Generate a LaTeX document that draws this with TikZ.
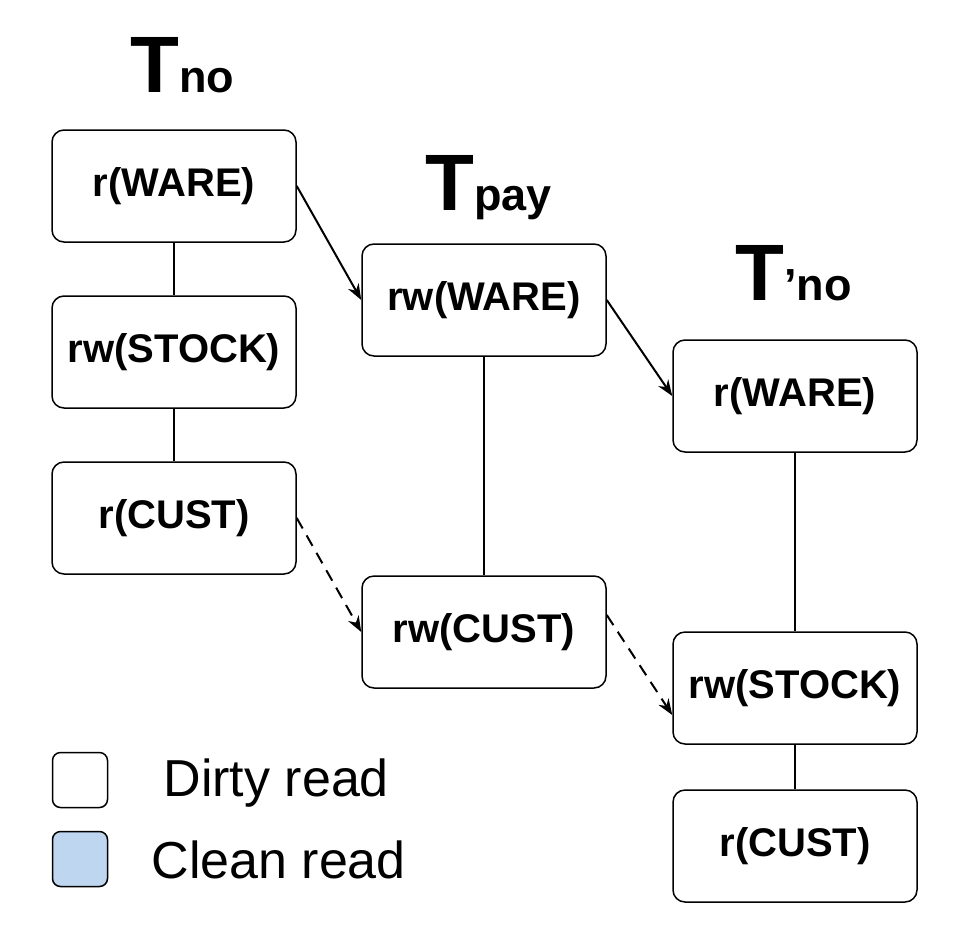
\documentclass[tikz,border=0pt]{standalone}
\usepackage{fontspec}
\setmainfont{Liberation Sans}
\usetikzlibrary{arrows.meta}
\begin{document}
\begin{tikzpicture}[x=1pt,y=-1pt,
 box/.style={draw,line width=1.5pt,rounded corners=12pt,minimum width=244pt,minimum height=112pt,font=\fontsize{40}{40}\selectfont\bfseries,inner sep=0pt},
 ln/.style={line width=2pt},
 arr/.style={line width=2pt,-{Stealth[length=16pt,width=12pt]}},
 ttl/.style={font=\fontsize{80}{80}\selectfont\bfseries,inner sep=0pt}]
\useasboundingbox (0,0) rectangle (968,924);
\node[box] (a1) at (174,186) {r(WARE)};
\node[box] (a2) at (174,352) {rw(STOCK)};
\node[box] (a3) at (174,518) {r(CUST)};
\node[box] (b1) at (484,300) {rw(WARE)};
\node[box] (b2) at (484,632) {rw(CUST)};
\node[box] (c1) at (795,396) {r(WARE)};
\node[box] (c2) at (795,688) {rw(STOCK)};
\node[box] (c3) at (795,846) {r(CUST)};
\node[ttl,anchor=base west] (t1) at (130,92) {T\fontsize{45}{45}\selectfont no};
\node[ttl,anchor=base west] (t2) at (425,210) {T\fontsize{45}{45}\selectfont pay};
\node[ttl,anchor=base west] (t3) at (735,300) {T\fontsize{45}{45}\selectfont ’no};
\draw[ln] (a1)--(a2); \draw[ln] (a2)--(a3);
\draw[ln] (b1)--(b2);
\draw[ln] (c1)--(c2); \draw[ln] (c2)--(c3);
\draw[arr] (a1.east)--(b1.west);
\draw[arr] (b1.east)--(c1.west);
\draw[arr,dash pattern=on 12pt off 8pt] (a3.east)--(b2.west);
\draw[arr,dash pattern=on 12pt off 8pt] ([yshift=17pt]b2.east)--([yshift=-27pt]c2.west);
\node[draw,line width=1.5pt,rounded corners=8pt,minimum size=55pt,inner sep=0pt] (l1) at (80,780) {};
\node[draw,line width=1.5pt,rounded corners=8pt,minimum size=55pt,inner sep=0pt,fill={rgb,255:red,190;green,214;blue,240}] (l2) at (80,859) {};
\node[anchor=west,font=\fontsize{52}{52}\selectfont] (d) at (160,783) {Dirty read};
\node[anchor=west,font=\fontsize{52}{52}\selectfont] (c) at (148,860) {Clean read};
\end{tikzpicture}
\end{document}
